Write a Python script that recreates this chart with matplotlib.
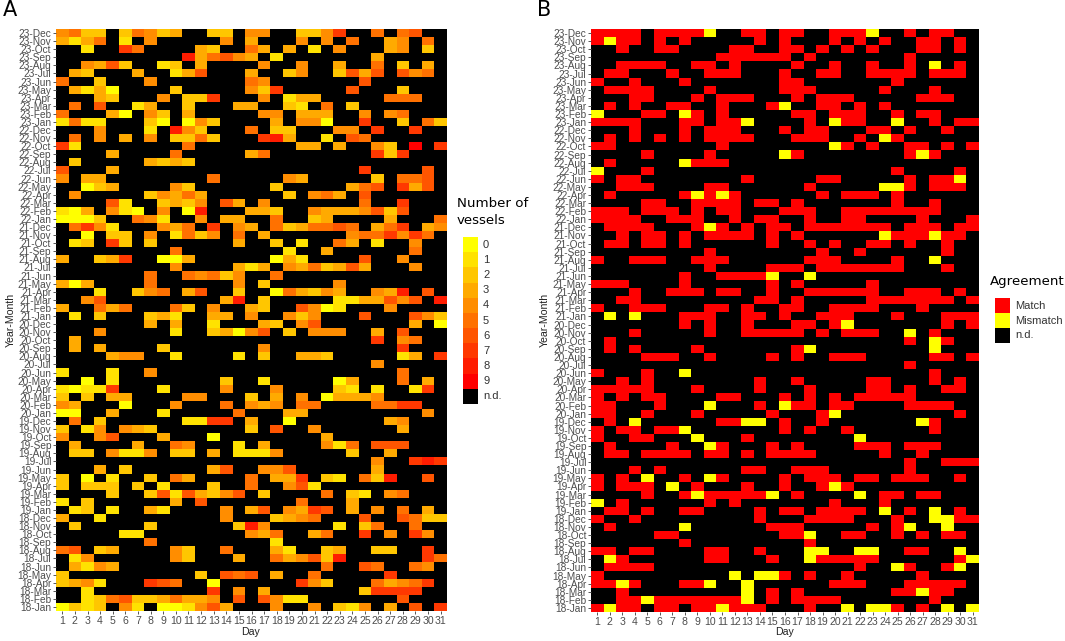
# -*- coding: utf-8 -*-
import numpy as np
import matplotlib
matplotlib.use('Agg')
import matplotlib.pyplot as plt
from matplotlib.colors import ListedColormap

W, H = 1065, 641

years_months = []
for yy in range(23, 17, -1):
    for mm in ['Dec', 'Nov', 'Oct', 'Sep', 'Aug', 'Jul', 'Jun', 'May', 'Apr', 'Mar', 'Feb', 'Jan']:
        years_months.append('%d-%s' % (yy, mm))
days = list(range(1, 32))

# number of vessels per day, one row per month (top row = 23-Dec), '.' = n.d.
vessels = [
    "4522.25423 ..22.44..2 247..5.56. .",
    "3135.1.4.. ...4.3...4 .4.5..34.5 .",
    "..1..75... .32..53.3. 1.4...34.2 .",
    ".......... 835643.1.. .....3.... .",
    "..4362..12 .3....4..4 ..3..5.2.3 .",
    ".32...3..1 36...3..24 ..2636.645 .",
    "5..2...4.. .....54... ....6..... .",
    ".3130....2 .....427.. ...6...2.. .",
    "...32...4. 227...4.13 3.....555. .",
    ".5.6..13.. 2...33..21 .5.2...... .",
    "5...30.42. 3.....44.3 33..4.45.. .",
    "1511...20. 042....3.4 40..7..2.5 2",
    "...4...1.8 42...5.22. ..44.7..7. .",
    ".5.4.3.4.2 252...783. .1.65..... .",
    "71........ 5........3 3.3..42.9. 7",
    "....3....5 .....35... .....727.. .",
    ".2.....323 2......... .......... .",
    "6...3..... .......... ....7....6 .",
    "4.33...... ..5.....43 .....2.556 .",
    "..023....4 2......2.. ...356.736 .",
    ".4.....243 53......2. 453.6..... .",
    "....61..23 24.63.4... ....5..7.. .",
    "103.410.4. 08...332.. 43334626.. .",
    "0002..541. .4.33..5.. 23....3... 5",
    ".5741...43 5.7.43.523 5565.357.3 4",
    "..0.22.4.1 524.5.3... ...4557475 .",
    ".12.72.2.. ....3..2.1 ..53.1..4. .",
    ".........5 ........1. .3......5. .",
    "3..237..00 3......031 ....6..4.. .",
    ".........4 ....313.43 52363...4. .",
    ".......5.. 54524..5.. .......... .",
    "303....5.. ....4.2... ..4....... .",
    "...1..245. 36..2..053 243..438.6 .",
    "..46...... ...38.2... ..1133646. 8",
    "3..535...5 2.4..32..6 401...4... .",
    ".1.2...231 ..33.4..42 4...6...64 2",
    ".......3.3 ..1...32.4 6.......3. 0",
    "...4.....1 ..23046.2. 444..3.6.. .",
    ".3........ .......... .....7.45. .",
    ".3.3....2. ......4... .......7.. .",
    "....344..1 ....1.2..3 32.....13. 7",
    ".......... .......... .....4.... .",
    "1...1..4.. .......... .......5.. .",
    "..0.1..... ...2..1... ..03...5.3 .",
    "10117...1. ...4...4.. ..21.1..17 .",
    "2.2.33.... 44...2.3.4 .03334.... .",
    "43...0...4 ...5.434.5 5....5577. .",
    "00..3...1. ....5...33 .........4 .",
    ".5.2...... 1177.3..0. ......34.. .",
    "2.14.432.. .....2.6.. 4......3.. .",
    "4..46...3. ..0....... .3........ .",
    ".3....3..5 4...1.3... .415.666.. .",
    ".22.4114.2 2.3.1114.. ...2..3... .",
    ".......... .......... .....4..78 7",
    "...3.2.... ..36..446. .....3.... .",
    "2.0.1..2.5 3....5.337 .21.528..6 .",
    "2.222.2.1. ..2..5..46 1......... .",
    "....2..261 63246.2... .5.21.45.. .",
    "1.2......3 .6.......5 ...3...... .",
    ".12.1..31. ...4.36.43 76.3.4.5.3 .",
    "3..1...... ...4...234 5...6..652 2",
    ".2.....2.. ....284... ..1.25..5. .",
    ".....11... .....435.. 35..7.4.74 .",
    ".......5.. .......1.. .......... .",
    "56.23....4 2..5...31. .23..22..7 .",
    ".14......4 2...3..534 628......7 5",
    ".3143..... .......... .5..65..54 .",
    "2......... .2.656.3.. 5.....7... .",
    "2341...765 ..0......7 42...53457 .",
    "..1....... ..7.4.3... ....27777. .",
    "..12562235 334.6.6411 .......6.. .",
    "0212.41.00 1463...4.. 4.214.3.6. 7",
]

# days where the two sources disagree (panel B), everything else with data is a match
mismatch = {
    '23-Dec': [10, 23], '23-Nov': [2], '23-Aug': [28], '23-Mar': [16],
    '23-Feb': [1, 8], '23-Jan': [13, 20, 25], '22-Nov': [24], '22-Oct': [20],
    '22-Sep': [16, 27], '22-Aug': [8], '22-Jul': [1], '22-Jun': [30],
    '22-May': [24, 25], '22-Apr': [9, 11], '21-Dec': [10], '21-Nov': [24, 28],
    '21-Aug': [28], '21-Jun': [15, 18], '21-Jan': [2, 4], '20-Dec': [21],
    '20-Nov': [26], '20-Oct': [28], '20-Sep': [18, 28], '20-Jun': [8],
    '20-Feb': [10, 16], '20-Jan': [20], '19-Dec': [4, 13, 14, 27], '19-Nov': [8],
    '19-Oct': [9, 22], '19-Sep': [10], '19-May': [5, 10], '19-Apr': [7, 20],
    '19-Mar': [9, 15, 22], '19-Feb': [1], '19-Jan': [24, 28], '18-Dec': [28, 29],
    '18-Nov': [8, 26, 29], '18-Oct': [18], '18-Aug': [18, 19, 22, 23, 30],
    '18-Jul': [2, 18, 31], '18-Jun': [25, 30], '18-May': [12, 14, 15],
    '18-Apr': [3, 10, 13], '18-Mar': [13, 27], '18-Feb': [5, 13],
    '18-Jan': [2, 11, 21, 23, 24, 29, 31],
}

vessel_labels = ['0', '1', '2', '3', '4', '5', '6', '7', '8', '9', 'n.d.']
agree_labels = ['Match', 'Mismatch', 'n.d.']

# yellow -> red ramp, black for n.d.
heatColors = ['#%02x%02x00' % (255, g) for g in np.linspace(255, 0, 10).astype(int)] + ['black']
agreeColors = ['#ff0000', '#ffff00', 'black']
gray = '#4d4d4d'
tickFont = 'Liberation Sans'
titleFont = 'DejaVu Sans'

# build the matrices
A = np.full((len(vessels), len(days)), 10)
for i, row in enumerate(vessels):
    for j, c in enumerate(row.replace(' ', '')):
        if c != '.':
            A[i, j] = int(c)
B = np.where(A == 10, 2, 0)
for key in mismatch:
    for d in mismatch[key]:
        B[years_months.index(key), d - 1] = 1


def px_axes(x0, y0, x1, y1):
    return fig.add_axes([x0 / W, 1 - y1 / H, (x1 - x0) / W, (y1 - y0) / H])


def heatmap(ax, M, colors):
    ax.imshow(M, cmap=ListedColormap(colors), vmin=-0.5, vmax=len(colors) - 0.5,
              aspect='auto', interpolation='nearest')
    ax.set_xticks(np.arange(len(days)))
    ax.set_xticklabels(days, fontsize=7.6, family=tickFont, color=gray)
    ax.set_yticks(np.arange(len(years_months)))
    ax.set_yticklabels(years_months, fontsize=7.3, family=tickFont, color=gray)
    ax.tick_params(length=2.2, width=0.7, color='#555555', pad=1.2)
    for axis in ['top', 'bottom', 'left', 'right']:
        ax.spines[axis].set_visible(False)


def legend_keys(x0, y0, x1, y1, colors, labels, size):
    ax = px_axes(x0, y0, x1, y1)
    ax.imshow(np.arange(len(colors)).reshape(-1, 1), cmap=ListedColormap(colors),
              aspect='auto', interpolation='nearest')
    ax.axis('off')
    step = (y1 - y0) / len(colors)
    for i, lab in enumerate(labels):
        fig.text((x1 + 5) / W, 1 - (y0 + step * (i + 0.5)) / H, lab, fontsize=size,
                 family=tickFont, va='center', color='#333333')


fig = plt.figure(figsize=(W / 100, H / 100), dpi=100)

axA = px_axes(56, 29, 447, 611)
heatmap(axA, A, heatColors)
axB = px_axes(591, 29, 979, 612)
heatmap(axB, B, agreeColors)

fig.text(3 / W, 1 - 10.5 / H, 'A', fontsize=15, family=titleFont, va='center', ha='left')
fig.text(537 / W, 1 - 10.5 / H, 'B', fontsize=15, family=titleFont, va='center', ha='left')

for x in [11, 545]:
    fig.text(x / W, 1 - 320 / H, 'Year-Month', fontsize=7.6, family=tickFont, rotation=90,
             va='center', ha='center', color='#222222')
for x in [251, 785]:
    fig.text(x / W, 1 - 632 / H, 'Day', fontsize=7.6, family=tickFont, va='center',
             ha='center', color='#222222')

fig.text(457 / W, 1 - 203 / H, 'Number of', fontsize=9.6, family=titleFont, va='center')
fig.text(457 / W, 1 - 221 / H, 'vessels', fontsize=9.6, family=titleFont, va='center')
legend_keys(463, 237, 478, 404, heatColors, vessel_labels, 8)

fig.text(990 / W, 1 - 282 / H, 'Agreement', fontsize=9.6, family=titleFont, va='center')
legend_keys(995, 298, 1010, 343, agreeColors, agree_labels, 8)

fig.savefig('out.png', dpi=100)
